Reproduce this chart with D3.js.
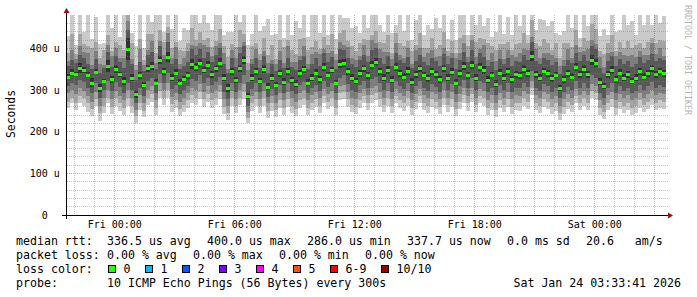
<!DOCTYPE html>
<html><head><meta charset="utf-8">
<script src="https://cdn.jsdelivr.net/npm/d3@7"></script>
<style>
html,body{margin:0;padding:0;background:#fff;}
svg{display:block;}
text{font-family:"DejaVu Sans Mono",monospace;fill:#000;white-space:pre;}
</style></head><body>
<svg id="chart" width="697" height="297"></svg>
<script>
// ---- data (microseconds), 150 steps of 12 minutes ----
const median = [
332,342,338,352,348,336,318,344,305,322,358,326,
350,338,322,398,330,290,335,312,352,358,318,372,
345,380,330,342,318,326,335,362,355,365,348,360,
338,352,366,330,305,345,325,352,372,286,330,345,
322,350,308,330,312,340,320,345,325,315,340,350,
318,330,342,326,355,336,348,318,362,365,345,330,
322,340,352,335,360,367,345,330,348,325,355,340,
332,346,320,338,352,336,328,345,338,326,352,330,
344,318,340,358,335,360,330,355,348,325,336,315,
342,330,345,326,338,335,350,340,382,338,330,346,
340,328,336,305,326,340,332,356,338,350,338,372,
365,320,310,338,348,326,342,330,338,322,330,345,
332,340,352,338,345,340];
const ping1 = [
258,268,252,270,262,248,238,262,225,245,268,242,
262,250,240,262,245,222,252,235,265,272,240,280,
265,282,248,258,238,248,258,270,265,278,260,272,
258,265,278,242,228,262,245,265,278,220,250,262,
245,262,232,250,235,258,240,260,245,238,258,265,
240,252,260,245,268,255,262,240,275,278,260,248,
242,258,268,252,270,275,260,248,262,245,268,258,
250,262,240,255,268,252,245,260,255,242,265,248,
260,238,255,270,250,272,248,268,262,240,252,235,
258,248,260,242,252,250,262,255,288,252,245,260,
255,242,250,228,242,255,248,268,252,262,252,280,
275,240,230,252,260,240,255,245,252,240,245,258,
248,255,265,252,258,255];
const ping2 = [
272,282,270,285,280,268,255,278,245,262,282,260,
280,268,258,282,262,238,270,250,282,290,258,298,
282,300,266,275,255,265,275,288,282,296,278,290,
275,282,295,260,245,280,262,282,296,232,268,278,
262,280,250,268,252,275,258,278,262,255,275,282,
258,270,278,262,285,272,280,258,292,295,278,265,
260,275,285,270,288,292,278,265,280,262,285,275,
268,280,258,272,285,270,262,278,272,260,282,265,
278,255,272,288,268,290,265,285,280,258,270,252,
275,265,278,260,270,268,280,272,305,270,262,278,
272,260,268,245,260,272,265,285,270,280,270,298,
292,258,248,270,278,258,272,262,270,258,262,275,
265,272,282,270,276,272];
const ping3 = [
292,300,290,305,298,285,272,296,262,282,300,278,
298,285,276,300,282,252,288,268,300,310,275,318,
300,318,284,292,272,282,292,305,300,315,296,310,
292,300,312,278,262,298,278,300,315,248,285,296,
278,298,268,285,270,292,275,295,280,272,292,300,
275,288,295,280,302,290,298,275,310,312,295,282,
278,292,302,288,305,310,296,282,298,278,302,292,
285,298,275,290,302,288,280,296,290,278,300,282,
295,272,290,305,286,306,282,302,298,276,288,270,
292,282,296,278,288,286,298,290,322,288,280,295,
290,278,286,262,278,290,282,302,288,298,288,315,
310,275,265,288,296,276,290,280,288,275,280,292,
282,290,300,288,294,290];
const ping4 = [
310,318,312,325,320,305,292,318,282,300,322,298,
320,308,294,318,300,268,305,285,322,330,292,338,
318,340,302,312,290,300,310,326,322,335,318,330,
312,320,332,296,278,318,296,318,336,262,302,316,
296,318,284,302,288,312,292,316,298,290,312,320,
292,305,312,298,322,308,318,292,330,335,315,300,
295,312,322,305,326,332,318,300,318,296,322,310,
302,318,292,310,322,306,298,315,308,296,320,300,
314,290,310,325,304,328,300,322,318,295,305,288,
312,300,316,295,306,304,318,308,345,305,298,314,
310,296,304,280,296,308,300,322,305,318,306,335,
330,292,282,305,316,294,310,298,304,292,298,312,
300,310,320,305,312,308];
const ping5 = [
326,333,333,340,340,329,308,338,296,317,344,318,
341,332,312,372,322,282,326,304,343,349,310,362,
337,368,321,333,309,319,327,350,346,356,340,351,
330,343,356,322,296,336,318,343,362,278,322,337,
315,341,300,322,305,331,312,337,318,307,331,342,
310,322,333,318,346,328,340,311,352,356,337,322,
314,332,343,327,350,357,337,322,339,317,346,332,
324,337,312,330,343,328,320,336,330,318,343,322,
335,310,332,348,327,350,322,346,339,317,328,307,
334,322,336,318,330,327,341,332,370,330,322,338,
332,320,328,297,318,332,324,346,330,341,330,360,
355,312,302,330,339,318,334,322,330,314,322,336,
324,332,343,330,337,332];
const ping6 = [
338,351,343,364,356,343,328,350,314,327,372,334,
359,344,332,424,338,298,344,320,361,367,326,382,
353,392,339,351,327,333,343,374,364,374,356,369,
346,361,376,338,314,354,332,361,382,294,338,353,
329,359,316,338,319,349,328,353,332,323,349,358,
326,338,351,334,364,344,356,325,372,374,353,338,
330,348,361,343,370,377,353,338,357,333,364,348,
340,355,328,346,361,344,336,354,346,334,361,338,
353,326,348,368,343,370,338,364,357,333,344,323,
350,338,354,334,346,343,359,348,394,346,338,354,
348,336,344,313,334,348,340,366,346,359,346,384,
375,328,318,346,357,334,350,338,346,330,338,354,
340,348,361,346,353,348];
const ping7 = [
358,372,365,385,378,362,350,375,340,352,392,356,
382,368,352,445,362,325,368,345,385,392,350,405,
375,415,362,375,350,358,368,398,385,398,378,392,
368,385,400,362,340,378,356,388,405,320,362,378,
352,382,340,362,345,372,352,378,356,348,372,382,
350,362,376,358,388,368,380,350,398,396,378,362,
355,372,385,368,395,402,378,362,382,358,388,372,
364,380,352,370,385,368,360,378,370,358,386,362,
378,350,372,392,368,395,362,388,380,358,368,348,
375,362,378,358,370,368,384,372,415,370,362,378,
372,360,368,338,358,372,364,390,370,384,370,405,
398,352,342,370,382,358,375,362,370,355,362,380,
364,372,386,370,378,372];
const ping8 = [
370,397,374,405,392,390,360,393,362,360,407,382,
400,378,376,465,374,347,398,359,395,417,366,417,
385,437,377,403,362,376,393,408,405,412,408,404,
382,405,412,388,350,396,378,403,415,348,374,398,
372,394,365,372,363,394,366,406,368,368,382,406,
362,386,392,386,398,388,394,372,416,408,404,377,
373,382,407,382,421,414,398,392,392,374,412,384,
378,402,362,396,401,380,388,396,380,382,400,382,
388,376,388,412,380,419,380,398,408,372,388,370,
397,374,396,384,380,388,398,396,427,398,378,388,
388,384,378,358,372,398,376,408,392,394,398,421,
410,380,356,390,392,382,391,384,382,385,380,394,
384,384,412,386,400,382];
const ping9 = [
390,435,386,435,410,405,402,415,376,395,432,394,
415,408,396,485,412,361,423,371,435,435,388,445,
415,452,402,415,397,394,413,448,420,440,420,426,
404,417,447,406,380,410,404,443,435,364,406,413,
387,424,385,407,375,419,404,420,396,386,422,426,
397,404,417,398,428,408,434,387,438,444,418,405,
393,414,422,420,433,442,416,414,432,388,437,414,
406,417,394,408,436,402,402,426,398,408,440,394,
418,390,426,432,406,431,415,426,423,412,406,395,
411,410,416,396,410,413,436,412,467,413,406,422,
413,396,412,376,412,413,404,444,404,424,418,459,
446,394,386,412,432,394,416,402,417,400,408,414,
402,416,426,414,420,418];
const ping10 = [
430,520,408,505,440,500,422,475,411,413,522,449,
480,428,484,545,437,406,513,401,490,463,488,485,
440,522,447,505,417,449,443,508,520,462,495,461,
444,512,517,431,440,440,489,463,545,409,434,493,
442,454,470,432,435,514,424,490,431,466,450,491,
427,479,507,438,493,433,534,422,548,474,473,450,
453,436,517,450,503,552,456,439,497,438,457,499,
441,507,419,468,536,432,457,446,473,448,535,422,
468,420,511,542,431,501,455,521,453,472,428,440,
491,435,476,431,505,453,506,432,577,443,471,467,
453,466,437,431,442,513,449,524,424,519,453,549,
521,429,446,432,522,439,444,502,457,465,433,499,
457,506,456,484,460,478];

const yTickValues = [0,100,200,300,400];
const yTickLabels = ["0  ","100 u","200 u","300 u","400 u"];
const yAxisTitle = "Seconds";
const medianLabel = "median rtt:";
const medianStats = ["336.5 us avg","400.0 us max","286.0 us min","337.7 us now","0.0 ms sd","20.6   am/s"];
const lossLabel = "packet loss:";
const lossStats = ["0.00 % avg","0.00 % max","0.00 % min","0.00 % now"];
const lossColorLabel = "loss color:";
const lossCategories = ["0","1","2","3","4","5","6-9","10/10"];
const lossColors = ["#26ff00","#00b8ff","#0059ff","#7e00ff","#ff00ff","#ff5500","#ff0000","#a10000"];
const probeLabel = "probe:";
const probeText = "10 ICMP Echo Pings (56 Bytes) every 300s";
const stampText = "Sat Jan 24 03:33:41 2026";
const watermark = "RRDTOOL / TOBI OETIKER";
const startTime = Date.UTC(2026,0,22,21,33,41);
const endTime = Date.UTC(2026,0,24,3,33,41);
const stepMs = 12*60*1000;

// ---- drawing ----
const svg = d3.select("#chart");
const L=66, R=666, T=15, B=215;
const x = d3.scaleUtc().domain([startTime,endTime]).range([L,R]);
const y = d3.scaleLinear().domain([0,480]).range([B,T]);
const N = median.length;
const tAt = i => startTime + i*stepMs;

svg.append("defs").append("clipPath").attr("id","plot")
  .append("rect").attr("x",L+1).attr("y",T).attr("width",R-L-1).attr("height",B-T);

const data = svg.append("g").attr("clip-path","url(#plot)").attr("shape-rendering","crispEdges");
const pings = [ping1,ping2,ping3,ping4,ping5,ping6,ping7,ping8,ping9,ping10];
const shades = ["#cacaca","#a4a4a4","#7e7e7e","#585858","#323232"];
shades.forEach((c,k)=>{
  const lo = pings[k], hi = pings[9-k];
  data.append("g").selectAll("rect").data(d3.range(N)).join("rect")
    .attr("x",i=>x(tAt(i))).attr("width",i=>x(tAt(i+1))-x(tAt(i)))
    .attr("y",i=>y(hi[i])).attr("height",i=>y(lo[i])-y(hi[i]))
    .attr("fill",c);
});
data.append("g").selectAll("rect").data(d3.range(N)).join("rect")
  .attr("x",i=>x(tAt(i))).attr("width",i=>x(tAt(i+1))-x(tAt(i)))
  .attr("y",i=>Math.round(y(median[i]))-1).attr("height",3)
  .attr("fill",lossColors[0]);

// grid on top
const grid = svg.append("g").attr("shape-rendering","crispEdges");
const minorY = d3.range(20,480,20).filter(v=>v%100!==0);
const majorY = d3.range(100,480,100);
grid.selectAll(".hmin").data(minorY).join("line")
  .attr("x1",L+1).attr("x2",R+3).attr("y1",v=>Math.floor(y(v))+0.5).attr("y2",v=>Math.floor(y(v))+0.5)
  .attr("stroke","rgba(128,128,128,0.45)").attr("stroke-dasharray","1,1");
const hours = d3.utcHour.every(1).range(new Date(startTime), new Date(endTime));
const minorX = hours.filter(d=>d.getUTCHours()%3!==0);
const majorX = hours.filter(d=>d.getUTCHours()%3===0);
grid.selectAll(".vmin").data(minorX).join("line")
  .attr("x1",d=>Math.floor(x(d))+0.5).attr("x2",d=>Math.floor(x(d))+0.5).attr("y1",T).attr("y2",B)
  .attr("stroke","rgba(128,128,128,0.45)").attr("stroke-dasharray","1,1");
grid.selectAll(".hmaj").data(majorY).join("line")
  .attr("x1",L+1).attr("x2",R+3).attr("y1",v=>Math.floor(y(v))+0.5).attr("y2",v=>Math.floor(y(v))+0.5)
  .attr("stroke","rgba(255,0,0,0.4)").attr("stroke-dasharray","1,1");
grid.selectAll(".vmaj").data(majorX).join("line")
  .attr("x1",d=>Math.floor(x(d))+0.5).attr("x2",d=>Math.floor(x(d))+0.5).attr("y1",T).attr("y2",B)
  .attr("stroke","rgba(255,0,0,0.4)").attr("stroke-dasharray","1,1");

// axes
const ax = svg.append("g").attr("shape-rendering","crispEdges");
ax.append("line").attr("x1",62).attr("x2",669).attr("y1",215.5).attr("y2",215.5).attr("stroke","#000");
ax.append("line").attr("x1",66.5).attr("x2",66.5).attr("y1",219).attr("y2",12).attr("stroke","#000");
svg.append("path").attr("d","M668,212.5 L673,215.5 L668,218.5 Z").attr("fill","#9a1010");
svg.append("path").attr("d","M63.5,13 L66.5,8 L69.5,13 Z").attr("fill","#9a1010");

// tick labels
const fmt = d3.utcFormat("%a %H:%M");
const labelX = hours.filter(d=>d.getUTCHours()%6===0);
svg.append("g").selectAll("text").data(labelX).join("text")
  .attr("x",d=>x(d)).attr("y",227.7).attr("text-anchor","middle")
  .attr("font-size","10px").text(d=>fmt(d));
svg.append("g").selectAll("text").data(yTickValues).join("text")
  .attr("x",59.8).attr("y",v=>y(v)+3.8).attr("text-anchor","end")
  .attr("font-size","10px").text((v,i)=>yTickLabels[i]);
svg.append("text").attr("transform","translate(15,114) rotate(-90)")
  .attr("text-anchor","middle").attr("font-size","11.4px").text(yAxisTitle);
svg.append("text").attr("transform","translate(685.3,5) rotate(90)")
  .attr("font-size","8.3px").style("fill","#b4b4b4").text(watermark);

// legend
const lg = svg.append("g").attr("font-size","11.6px");
lg.append("text").attr("x",16).attr("y",245.3).text(medianLabel);
const mX = [107,207,307,407,507,586];
medianStats.forEach((s,i)=>lg.append("text").attr("x",mX[i]).attr("y",245.3).text(s));
lg.append("text").attr("x",16).attr("y",259.2).text(lossLabel);
const lX = [107,193,279,365];
lossStats.forEach((s,i)=>lg.append("text").attr("x",lX[i]).attr("y",259.2).text(s));
lg.append("text").attr("x",16).attr("y",273.1).text(lossColorLabel);
let cx = 108.5;
lossCategories.forEach((c,i)=>{
  lg.append("rect").attr("x",cx).attr("y",265.5).attr("width",7).attr("height",7)
    .attr("fill",lossColors[i]).attr("stroke","#000").attr("shape-rendering","crispEdges");
  lg.append("text").attr("x",cx+15).attr("y",273.1).text(c);
  cx += 30 + 7*c.length;
});
lg.append("text").attr("x",16).attr("y",287).text(probeLabel);
lg.append("text").attr("x",107).attr("y",287).text(probeText);
lg.append("text").attr("x",681).attr("y",287).attr("text-anchor","end").text(stampText);
</script>
</body></html>
